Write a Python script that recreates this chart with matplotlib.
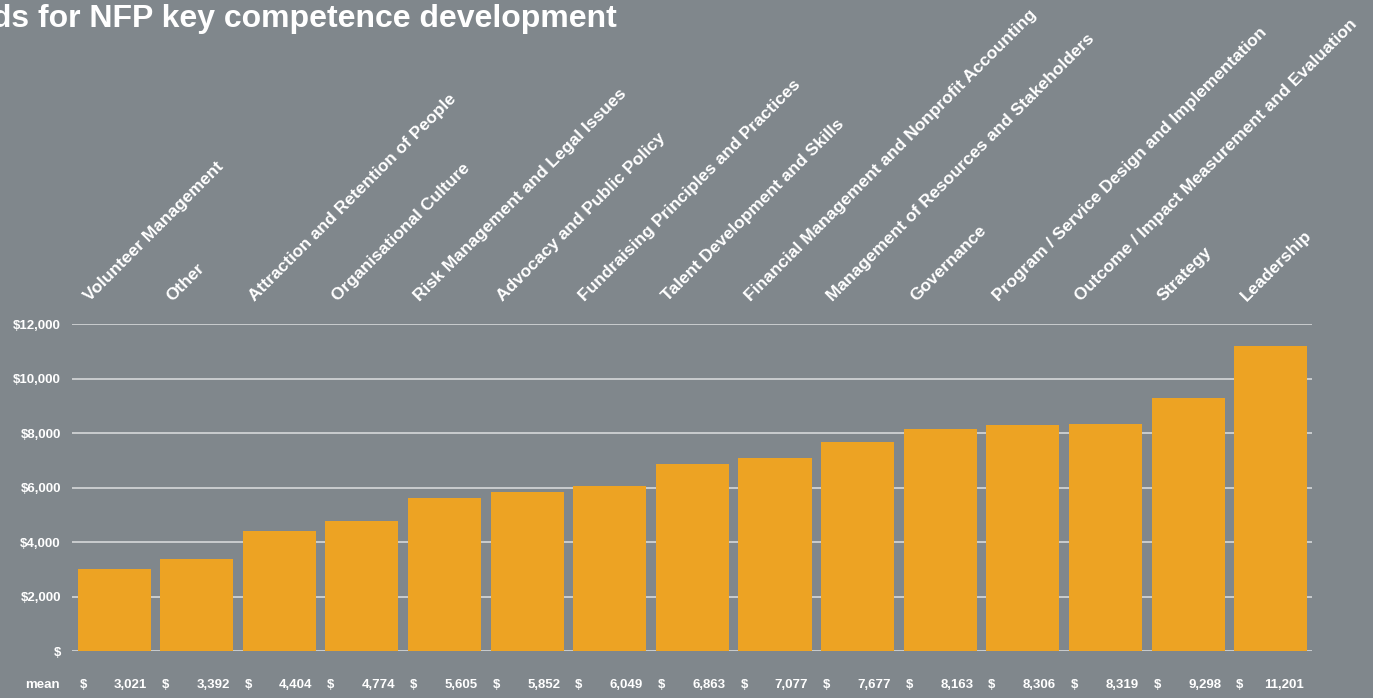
import numpy as np
import matplotlib.pyplot as plt
from matplotlib import transforms

# dati: fabbisogni medi per area di competenza
categorie = ['Volunteer Management', 'Other', 'Attraction and Retention of People',
             'Organisational Culture', 'Risk Management and Legal Issues',
             'Advocacy and Public Policy', 'Fundraising Principles and Practices',
             'Talent Development and Skills', 'Financial Management and Nonprofit Accounting',
             'Management of Resources and Stakeholders', 'Governance',
             'Program / Service Design and Implementation',
             'Outcome / Impact Measurement and Evaluation', 'Strategy', 'Leadership']
media = [3021, 3392, 4404, 4774, 5605, 5852, 6049, 6863, 7077, 7677,
         8163, 8306, 8319, 9298, 11201]
y_ticks = [0, 2000, 4000, 6000, 8000, 10000, 12000]
y_labels = ['$', '$2,000', '$4,000', '$6,000', '$8,000', '$10,000', '$12,000']

sfondo = '#80878c'
arancio = '#eda323'
griglia = '#cfd2d4'

plt.rcParams['font.family'] = ['Liberation Sans', 'DejaVu Sans']
plt.rcParams['font.weight'] = 'bold'

fig = plt.figure(figsize=(13.73, 6.98), dpi=100, facecolor=sfondo)
ax = fig.add_axes([0.0524, 0.0673, 0.9032, 0.4685])
ax.set_facecolor(sfondo)

x = np.arange(len(categorie))
ax.bar(x, media, width=0.885, color=arancio, zorder=3)

ax.set_xlim(-0.51, 14.5)
ax.set_ylim(0, 12000)
ax.set_yticks(y_ticks)
ax.set_yticklabels(y_labels, color='white', fontsize=9.5, fontweight='bold')
ax.yaxis.grid(True, color=griglia, linewidth=1.3, zorder=0)
ax.tick_params(axis='y', length=0, pad=8)
ax.set_xticks([])
for s in ax.spines.values():
    s.set_visible(False)

# etichette delle categorie in alto, ruotate
trans = transforms.blended_transform_factory(ax.transData, ax.transAxes)
for i, nome in enumerate(categorie):
    ax.text(i - 0.27, 1.06, nome, transform=trans, rotation=45, rotation_mode='anchor',
            ha='left', va='bottom', color='white', fontsize=12.5, fontweight='bold')

# riga dei valori medi sotto il grafico
ax.text(-0.66, -0.105, 'mean', transform=trans, ha='right', va='center',
        color='white', fontsize=9.5, fontweight='bold')
for i, v in enumerate(media):
    ax.text(i - 0.42, -0.105, '$', transform=trans, ha='left', va='center',
            color='white', fontsize=9.5, fontweight='bold')
    ax.text(i + 0.4, -0.105, '{:,}'.format(v), transform=trans, ha='right', va='center',
            color='white', fontsize=9.5, fontweight='bold')

fig.text(617 / 1373, 1 - 19 / 698, 'ds for NFP key competence development', ha='right',
         va='center', color='white', fontsize=23, fontweight='bold')

fig.savefig('out.png', dpi=100, facecolor=sfondo)
